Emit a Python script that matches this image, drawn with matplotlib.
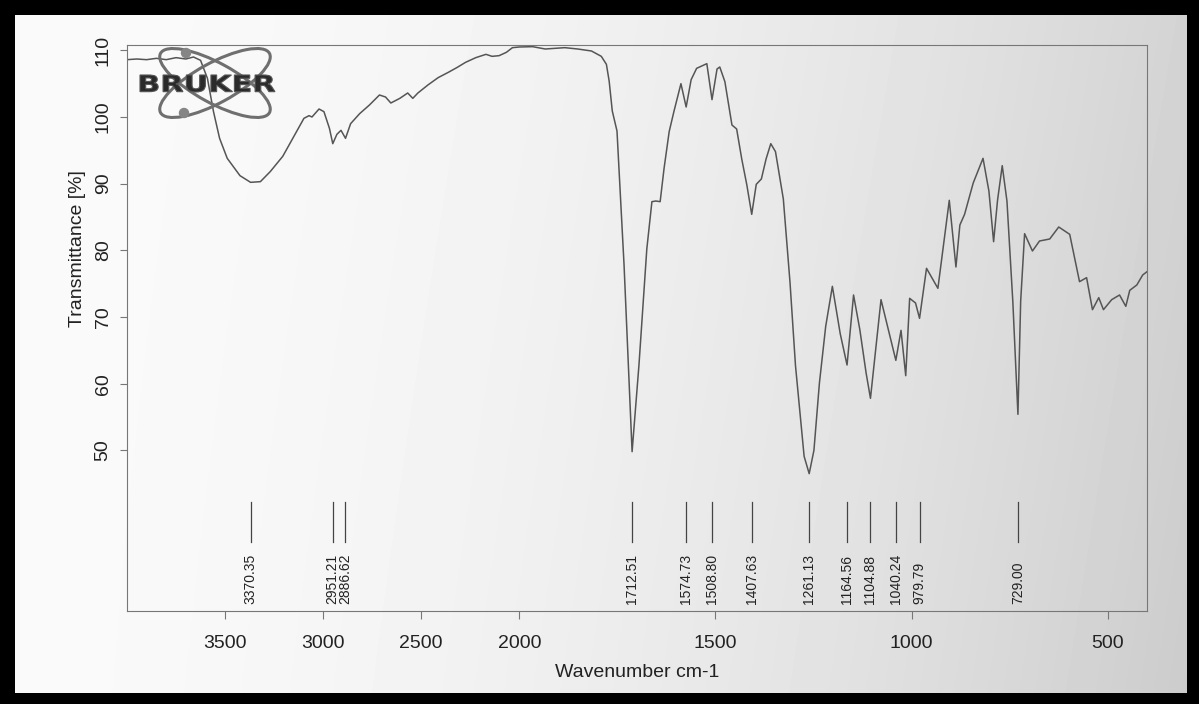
import numpy as np
import matplotlib.pyplot as plt
from matplotlib.patches import Ellipse, Circle, PathPatch
from matplotlib.textpath import TextPath
from matplotlib.font_manager import FontProperties
from matplotlib.transforms import Affine2D, blended_transform_factory

plt.rcParams['font.family'] = ['Liberation Sans', 'DejaVu Sans']

# spectrum (wavenumber cm-1, transmittance %)
wavenumber = [4000, 3950, 3900, 3850, 3800, 3750, 3700, 3661, 3625, 3590,
              3559, 3528, 3489, 3424, 3370, 3320, 3270, 3206, 3147, 3098,
              3072, 3057, 3021, 2996, 2968, 2951, 2930, 2909, 2886, 2860,
              2814, 2764, 2713, 2682, 2655, 2609, 2569, 2543, 2517, 2466,
              2414, 2362, 2319, 2274, 2222, 2170, 2139, 2103, 2066, 2035, 2000,
              1966, 1934, 1884, 1851, 1816, 1791, 1778, 1771, 1763, 1751,
              1733, 1712.5, 1695, 1675, 1662, 1652, 1641, 1631, 1618, 1606,
              1588, 1574.7, 1562, 1548, 1522, 1508.8, 1496, 1489, 1476, 1458,
              1446, 1433, 1420, 1407.6, 1396, 1383, 1371, 1359, 1347, 1327,
              1310, 1296, 1274, 1261.1, 1249, 1235, 1219, 1202, 1182, 1164.6,
              1148, 1132, 1116, 1104.9, 1078, 1061, 1040.2, 1027, 1015, 1005,
              990, 979.8, 962, 933, 904, 887, 877, 865, 843, 818,
              803, 791, 781, 769, 757, 742, 729, 722, 712, 692,
              674, 648, 625, 597, 572, 554, 539, 523, 511, 490,
              470, 454, 444, 426, 411, 400]
transmittance = [108.6, 108.7, 108.6, 108.8, 108.6, 108.9, 108.7, 109.0, 108.5, 105.8,
                 100.8, 96.8, 93.8, 91.2, 90.2, 90.3, 91.8, 94.1, 97.2, 99.8,
                 100.2, 100.0, 101.2, 100.8, 98.3, 96.0, 97.4, 98.0, 96.8, 99.0,
                 100.5, 101.8, 103.3, 103.0, 102.1, 102.8, 103.6, 102.8, 103.6, 104.8,
                 105.9, 106.7, 107.4, 108.2, 108.9, 109.4, 109.1, 109.2, 109.7, 110.4, 110.5,
                 110.55, 110.2, 110.4, 110.2, 109.9, 109.1, 107.9, 105.4, 100.9, 97.9,
                 77.8, 49.8, 62.8, 80.2, 87.3, 87.4, 87.3, 92.3, 97.8, 100.8,
                 105.0, 101.5, 105.6, 107.3, 108.0, 102.6, 107.2, 107.5, 105.3, 98.8,
                 98.2, 93.7, 89.8, 85.4, 89.9, 90.7, 93.7, 96.0, 94.8, 87.7,
                 75.2, 62.7, 49.1, 46.5, 50.0, 60.1, 68.6, 74.6, 67.5, 62.8,
                 73.3, 68.1, 61.6, 57.8, 72.6, 68.5, 63.5, 68.0, 61.2, 72.8,
                 72.1, 69.8, 77.3, 74.3, 87.5, 77.5, 83.8, 85.4, 90.1, 93.8,
                 88.9, 81.3, 87.5, 92.7, 87.4, 72.3, 55.4, 72.4, 82.5, 79.9,
                 81.4, 81.7, 83.5, 82.4, 75.3, 75.9, 71.1, 72.9, 71.1, 72.6,
                 73.3, 71.6, 74.0, 74.8, 76.3, 76.8]

peak_pos = [3370.35, 2951.21, 2886.62, 1712.51, 1574.73, 1508.80, 1407.63,
            1261.13, 1164.56, 1104.88, 1040.24, 979.79, 729.00]
peak_text = ['3370.35', '2951.21', '2886.62', '1712.51', '1574.73', '1508.80', '1407.63',
             '1261.13', '1164.56', '1104.88', '1040.24', '979.79', '729.00']

x_ticks = [3500, 3000, 2500, 2000, 1500, 1000, 500]
y_ticks = [50, 60, 70, 80, 90, 100, 110]


# OPUS style axis: half scale above 2000 cm-1
def fwd(x):
    x = np.asarray(x, dtype=float)
    return np.where(x >= 2000, x / 2 + 1000, x)


def inv(y):
    y = np.asarray(y, dtype=float)
    return np.where(y >= 2000, 2 * (y - 1000), y)


W, H = 1199, 704
fig = plt.figure(figsize=(W / 100, H / 100), dpi=100)
fig.patch.set_facecolor('black')

# paper background, lighter on the left, shadowed on the right
bg = fig.add_axes([0, 0, 1, 1], zorder=-1)
gx, gy = np.meshgrid(np.linspace(0, 1, 240), np.linspace(0, 1, 140))
shade = 0.98 - 0.15 * gx ** 2.0 - 0.03 * gy * gx
bg.imshow(shade, cmap='gray', vmin=0, vmax=1, extent=(15, 1187, 693, 15),
          aspect='auto', interpolation='bilinear')
bg.set_xlim(0, W)
bg.set_ylim(H, 0)
bg.axis('off')

ax = fig.add_axes([127 / W, (H - 611) / H, 1020 / W, 566 / H])
ax.patch.set_alpha(0)
ax.set_xscale('function', functions=(fwd, inv))
ax.plot(wavenumber, transmittance, color='#555555', lw=1.1)
ax.set_xlim(4000, 400)
ax.set_ylim(25.9, 110.8)
ax.set_xticks(x_ticks)
ax.set_xticklabels([str(t) for t in x_ticks])
ax.set_yticks(y_ticks)
ax.set_yticklabels([str(t) for t in y_ticks], rotation=90, va='center')
ax.minorticks_off()
for s in ax.spines.values():
    s.set_color('#777777')
    s.set_linewidth(0.8)
ax.tick_params(axis='x', direction='out', length=6, width=0.8, color='#777777',
               pad=11, labelsize=14, labelcolor='#222222')
ax.tick_params(axis='y', direction='out', length=5, width=0.8, color='#777777',
               pad=6, labelsize=14, labelcolor='#222222')
ax.set_xlabel('Wavenumber cm-1', fontsize=14, color='#222222', labelpad=9)
ax.set_ylabel('Transmittance [%]', fontsize=14, color='#222222')
ax.yaxis.set_label_coords(-0.040, 0.641)

# peak markers
trans = blended_transform_factory(ax.transData, ax.transAxes)
for p, lab in zip(peak_pos, peak_text):
    ax.plot([p, p], [0.122, 0.192], transform=trans, color='#444444', lw=0.9)
    ax.text(p, 0.012, lab, transform=trans, rotation=90, ha='center', va='bottom',
            fontsize=10, color='#222222')

# Bruker logo
logo = fig.add_axes([0, 0, 1, 1], zorder=5)
logo.set_xlim(0, W)
logo.set_ylim(H, 0)
logo.axis('off')
for ang in (28.6, -28.6):
    logo.add_patch(Ellipse((215, 83), 124, 40, angle=ang, fill=False,
                           ec='#6f6f6f', lw=2.2))
logo.add_patch(Circle((186, 53), 4.5, color='#858585'))
logo.add_patch(Circle((184, 113), 4.5, color='#858585'))
tp = TextPath((0, 0), 'BRUKER', size=1,
              prop=FontProperties(family='DejaVu Sans', weight='bold'))
bb = tp.get_extents()
tr = Affine2D().translate(-bb.x0, -bb.y0).scale(135 / bb.width, -17 / bb.height).translate(140, 92)
logo.add_patch(PathPatch(tr.transform_path(tp), fc='#2b2b2b', ec='#555555', lw=0.8))

fig.savefig('out.png', dpi=100, facecolor=fig.get_facecolor())
